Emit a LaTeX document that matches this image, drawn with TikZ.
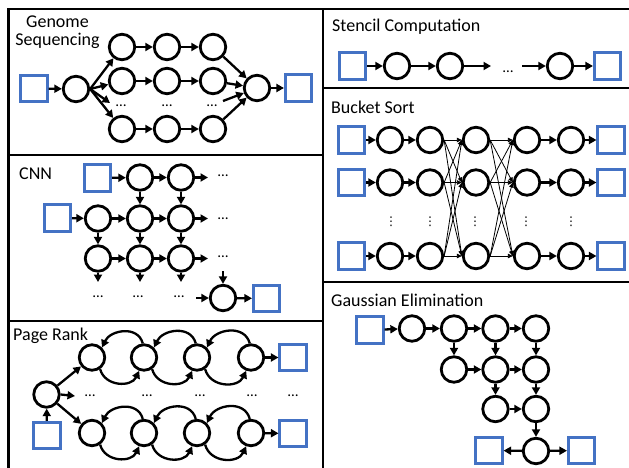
\documentclass[tikz,border=0pt]{standalone}
\usepackage{fontspec}
\setmainfont{Carlito}
\newfontfamily\dejavu{DejaVu Sans}
\usetikzlibrary{arrows.meta}
\definecolor{sqblue}{RGB}{68,114,196}
\begin{document}
\begin{tikzpicture}[x=1pt,y=1pt,
  cnode/.style={circle,draw=black,line width=2.8pt,minimum size=25.5pt,inner sep=0pt},
  bnode/.style={rectangle,draw=sqblue,line width=2.6pt,minimum size=26.5pt,inner sep=0pt},
  arr/.style={line width=2.3pt,-{Triangle[length=7.5pt,width=8pt]}},
  tarr/.style={line width=0.8pt,-{Triangle[length=5pt,width=4.5pt]}},
  hd/.style={inner sep=0pt,font=\fontsize{15}{15}\selectfont},
  vd/.style={inner sep=0pt,font=\dejavu\fontsize{12}{12}\selectfont},
  ttl/.style={inner sep=0pt,anchor=base west,font=\fontsize{18}{18}\selectfont},
  frame/.style={line width=2.6pt}]
\useasboundingbox (0,0) rectangle (629,467);
% frames
\draw[frame] (8.5,-5) -- (8.5,458) -- (640,458);
\draw[frame] (323,458) -- (323,-5);
\draw[frame] (8.5,312) -- (323,312);
\draw[frame] (8.5,146) -- (323,146);
\draw[frame] (323,379) -- (640,379);
\draw[frame] (323,185) -- (640,185);
% titles
\node[inner sep=0pt,anchor=base,font=\fontsize{18}{18}\selectfont] (tg1) at (57.5,439) {Genome};
\node[inner sep=0pt,anchor=base,font=\fontsize{18}{18}\selectfont] (tg2) at (57.5,421) {Sequencing};
\node[ttl] (tc) at (19,288) {CNN};
\node[ttl] (tp) at (13,127) {Page Rank};
\node[ttl] (ts) at (332,435) {Stencil Computation};
\node[ttl] (tb) at (331,354) {Bucket Sort};
\node[ttl] (te) at (331,161) {Gaussian Elimination};
% ---------------- Genome
\node[bnode] (g0) at (34,378.5) {};
\node[cnode] (gs) at (76,378) {};
\node[cnode] (g11) at (122,420) {};
\node[cnode] (g12) at (167,420) {};
\node[cnode] (g13) at (213,420) {};
\node[cnode] (g21) at (122,386) {};
\node[cnode] (g22) at (167,386) {};
\node[cnode] (g23) at (213,386) {};
\node[cnode] (g41) at (122,338) {};
\node[cnode] (g42) at (167,338) {};
\node[cnode] (g43) at (213,338) {};
\node[cnode] (gt) at (257,379) {};
\node[bnode] (g9) at (298.5,379) {};
\node[hd] (gd1) at (121,361) {…};
\node[hd] (gd2) at (167,361) {…};
\node[hd] (gd3) at (212,361) {…};
\coordinate (gdin) at (110,364);
\coordinate (gdout) at (223,366);
\draw[arr] (g0) -- (gs);
\draw[arr] (gs.east) -- (g11);
\draw[arr] (gs.east) -- (g21);
\draw[arr] (gs.east) -- (gdin);
\draw[arr] (gs.east) -- (g41);
\draw[arr] (g11) -- (g12);
\draw[arr] (g12) -- (g13);
\draw[arr] (g21) -- (g22);
\draw[arr] (g22) -- (g23);
\draw[arr] (g41) -- (g42);
\draw[arr] (g42) -- (g43);
\draw[arr] (g13) -- (gt);
\draw[arr] (g23) -- (gt);
\draw[arr] (gdout) -- (gt);
\draw[arr] (g43) -- (gt);
\draw[arr] (gt) -- (g9);
% ---------------- CNN
\node[bnode] (cb1) at (97.5,289) {};
\node[cnode] (c1a) at (140,289.5) {};
\node[cnode] (c1b) at (181,289.5) {};
\node[bnode] (cb2) at (57.5,249) {};
\node[cnode] (c20) at (98,248.5) {};
\node[cnode] (c2a) at (140,248.5) {};
\node[cnode] (c2b) at (181,248.5) {};
\node[cnode] (c30) at (98,208.5) {};
\node[cnode] (c3a) at (140,208.5) {};
\node[cnode] (c3b) at (181,208.5) {};
\node[hd] (cd1) at (223,291) {…};
\node[hd] (cd2) at (223,248) {…};
\node[hd] (cd3) at (223,210) {…};
\coordinate (ce1) at (208,289.5);
\coordinate (ce2) at (208,248.5);
\coordinate (ce3) at (208,208.5);
\coordinate (cf0) at (98,185);
\coordinate (cfa) at (140,185);
\coordinate (cfb) at (181,185);
\node[hd] (cg0) at (98,170) {…};
\node[hd] (cga) at (138,170) {…};
\node[hd] (cgb) at (179,170) {…};
\node[cnode] (cz) at (223,169) {};
\coordinate (czin) at (196,169);
\coordinate (cztop) at (223,196);
\node[bnode] (cb3) at (266.5,168.5) {};
\draw[arr] (cb1) -- (c1a);
\draw[arr] (c1a) -- (c1b);
\draw[arr] (c1b) -- (ce1);
\draw[arr] (c1a) -- (c2a);
\draw[arr] (c1b) -- (c2b);
\draw[arr] (cb2) -- (c20);
\draw[arr] (c20) -- (c2a);
\draw[arr] (c2a) -- (c2b);
\draw[arr] (c2b) -- (ce2);
\draw[arr] (c20) -- (c30);
\draw[arr] (c2a) -- (c3a);
\draw[arr] (c2b) -- (c3b);
\draw[arr] (c30) -- (c3a);
\draw[arr] (c3a) -- (c3b);
\draw[arr] (c3b) -- (ce3);
\draw[arr] (c30) -- (cf0);
\draw[arr] (c3a) -- (cfa);
\draw[arr] (c3b) -- (cfb);
\draw[arr] (czin) -- (cz);
\draw[arr] (cztop) -- (cz);
\draw[arr] (cz) -- (cb3);
% ---------------- Page Rank
\node[bnode] (pb0) at (47,31.5) {};
\node[cnode] (ps) at (46.5,72.5) {};
\node[cnode] (pt1) at (92,109.5) {};
\node[cnode] (pt2) at (144,109.5) {};
\node[cnode] (pt3) at (197,109.5) {};
\node[cnode] (pt4) at (251,109.5) {};
\node[cnode] (pu1) at (92,34) {};
\node[cnode] (pu2) at (144,34) {};
\node[cnode] (pu3) at (197,34) {};
\node[cnode] (pu4) at (251,34) {};
\node[bnode] (pbt) at (293,109.5) {};
\node[bnode] (pbb) at (293,33.5) {};
\node[hd] (pd1) at (90,71) {…};
\node[hd] (pd2) at (147,71) {…};
\node[hd] (pd3) at (200,71) {…};
\node[hd] (pd4) at (252,71) {…};
\node[hd] (pd5) at (293,71) {…};
\coordinate (pdin) at (75,71);
\draw[arr] (pb0) -- (ps);
\draw[arr] (ps) -- (pt1);
\draw[arr] (ps.east) -- (pdin);
\draw[arr] (ps) -- (pu1);
\draw[arr] (pt4) -- (pbt);
\draw[arr] (pu4) -- (pbb);
\foreach \a/\b in {1/2,2/3,3/4}{
  \draw[arr] (pt\b.95) to[out=105,in=65,looseness=1.2] (pt\a.45);
  \draw[arr] (pt\a.-55) to[out=-75,in=-115,looseness=1.2] (pt\b.-110);
  \draw[arr] (pu\b.95) to[out=105,in=65,looseness=1.2] (pu\a.45);
  \draw[arr] (pu\a.-55) to[out=-75,in=-115,looseness=1.2] (pu\b.-110);
}
% ---------------- Stencil
\node[bnode] (sb1) at (352.5,401) {};
\node[cnode] (s1) at (397,401) {};
\node[cnode] (s2) at (450,401) {};
\coordinate (se) at (491,401);
\node[hd] (sd) at (508,395) {…};
\coordinate (ss) at (522,401);
\node[cnode] (s3) at (560,401) {};
\node[bnode] (sb2) at (607.5,401) {};
\draw[arr] (sb1) -- (s1);
\draw[arr] (s1) -- (s2);
\draw[arr] (s2) -- (se);
\draw[arr] (ss) -- (s3);
\draw[arr] (s3) -- (sb2);
% ---------------- Bucket Sort
\foreach \r/\y in {1/327,2/284.5,3/211}{
  \node[bnode] (bl\r) at (351.5,\y) {};
  \node[cnode] (b1\r) at (390,\y) {};
  \node[cnode] (b2\r) at (430,\y) {};
  \node[cnode] (b3\r) at (476,\y) {};
  \node[cnode] (b4\r) at (527,\y) {};
  \node[cnode] (b5\r) at (571,\y) {};
  \node[bnode] (br\r) at (611,\y) {};
}
\foreach \r in {1,2,3}{
  \draw[arr] (bl\r) -- (b1\r);
  \draw[arr] (b1\r) -- (b2\r);
  \draw[arr] (b4\r) -- (b5\r);
  \draw[arr] (b5\r) -- (br\r);
  \foreach \s in {1,2,3}{
    \draw[tarr] (b2\r.east) -- (b3\s.west);
    \draw[tarr] (b3\r.east) -- (b4\s.west);
  }
}
\node[vd] (bv1) at (391,245) {⋮};
\node[vd] (bv2) at (430,245) {⋮};
\node[vd] (bv3) at (475,245) {⋮};
\node[vd] (bv4) at (526,245) {⋮};
\node[vd] (bv5) at (571,245) {⋮};
% ---------------- Gaussian Elimination
\node[bnode] (e0) at (370,137) {};
\node[cnode] (e11) at (412,138.5) {};
\node[cnode] (e12) at (454,138.5) {};
\node[cnode] (e13) at (495.5,138.5) {};
\node[cnode] (e14) at (536,138.5) {};
\node[cnode] (e22) at (454,97.5) {};
\node[cnode] (e23) at (495.5,97.5) {};
\node[cnode] (e24) at (536,97.5) {};
\node[cnode] (e33) at (495.5,58) {};
\node[cnode] (e34) at (536,58) {};
\node[cnode] (e44) at (536,16) {};
\node[bnode] (eL) at (489,16.5) {};
\node[bnode] (eR) at (581.5,16.5) {};
\draw[arr] (e0) -- (e11);
\draw[arr] (e11) -- (e12);
\draw[arr] (e12) -- (e13);
\draw[arr] (e13) -- (e14);
\draw[arr] (e12) -- (e22);
\draw[arr] (e13) -- (e23);
\draw[arr] (e14) -- (e24);
\draw[arr] (e22) -- (e23);
\draw[arr] (e23) -- (e24);
\draw[arr] (e23) -- (e33);
\draw[arr] (e24) -- (e34);
\draw[arr] (e33) -- (e34);
\draw[arr] (e34) -- (e44);
\draw[arr] (e44) -- (eL);
\draw[arr] (e44) -- (eR);
\end{tikzpicture}
\end{document}
